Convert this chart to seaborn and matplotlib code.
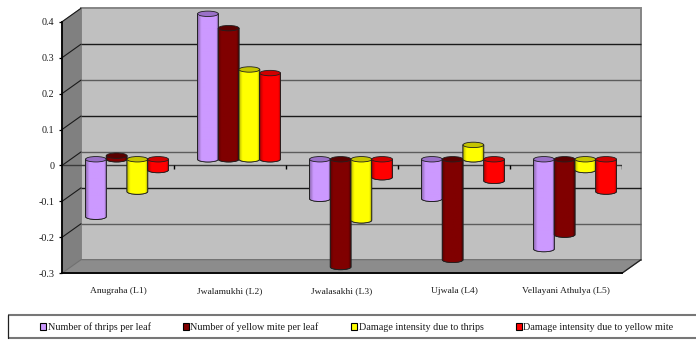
import numpy as np
import pandas as pd
import matplotlib
matplotlib.use("Agg")
import matplotlib.pyplot as plt
from matplotlib.patches import Patch, Polygon, Ellipse, PathPatch
from matplotlib.path import Path
import seaborn as sns

# Correlation values per variety and trait
varieties = ["Anugraha (L1)", "Jwalamukhi (L2)", "Jwalasakhi (L3)", "Ujwala (L4)", "Vellayani Athulya (L5)"]
thrips = [-0.16, 0.405, -0.11, -0.11, -0.25]
mite = [0.01, 0.365, -0.30, -0.28, -0.21]
damage_thrips = [-0.09, 0.25, -0.17, 0.04, -0.03]
damage_mite = [-0.03, 0.24, -0.05, -0.06, -0.09]
traits = ["Number of thrips per leaf", "Number of yellow mite per leaf",
          "Damage intensity due to thrips", "Damage intensity due to yellow mite"]
colors = ["#CC99FF", "#800000", "#FFFF00", "#FF0000"]
cap_colors = ["#9A70C8", "#5A0000", "#C4C400", "#D00000"]
y_ticks = [0.4, 0.3, 0.2, 0.1, 0, -0.1, -0.2, -0.3]
y_labels = ["0.4", "0.3", "0.2", "0.1", "0", "-0.1", "-0.2", "-0.3"]

sns.set_theme(style="white")
plt.rcParams["font.family"] = ["Liberation Serif", "DejaVu Serif"]
TEXT = "#1c1c1c"
FS = 7.3
FS_CAT = 6.8

W, H = 696, 341
fig = plt.figure(figsize=(W / 100, H / 100), dpi=100, facecolor="white")


def px_axes(x0, x1, y_top, y_bottom, z):
    a = fig.add_axes([x0 / W, 1 - y_bottom / H, (x1 - x0) / W, (y_bottom - y_top) / H], zorder=z)
    a.patch.set_alpha(0)
    return a


# Chart box: back wall, side wall, floor and the legend frame, in pixel units
bg = px_axes(0, W, 0, H, 0)
bg.set_xlim(0, W)
bg.set_ylim(H, 0)
bg.axis("off")
FX0, FX1, FY_T, FY_B = 62, 622, 21.8, 273.2
DX, DY = 19, -13.5
bg.add_patch(Polygon([(FX0 + DX, FY_T + DY), (FX1 + DX, FY_T + DY), (FX1 + DX, FY_B + DY), (FX0 + DX, FY_B + DY)],
                     fc="#C0C0C0", ec="#858585", lw=1.4))
bg.add_patch(Polygon([(FX0, FY_T), (FX0 + DX, FY_T + DY), (FX0 + DX, FY_B + DY), (FX0, FY_B)],
                     fc="#808080", ec="#808080", lw=0.6))
bg.add_patch(Polygon([(FX0, FY_B), (FX1, FY_B), (FX1 + DX, FY_B + DY), (FX0 + DX, FY_B + DY)],
                     fc="#8C8C8C", ec="#707070", lw=0.8))
bg.plot([FX1, FX1 + DX], [FY_B, FY_B + DY], color="#202020", lw=0.9)
scale = (FY_B - FY_T) / 0.7
for i, v in enumerate(y_ticks[1:-1]):
    yf = FY_T + (0.4 - v) * scale
    shade = "#1a1a1a" if i % 2 == 0 else "#5c5c5c"
    bg.plot([FX0 + DX, FX1 + DX], [yf + DY, yf + DY], color=shade, lw=1.0, solid_capstyle="butt")
for v in y_ticks:
    yf = FY_T + (0.4 - v) * scale
    if v != -0.3:
        bg.plot([FX0, FX0 + DX], [yf, yf + DY], color="#1a1a1a", lw=0.8)
# Legend frame runs off the right edge of the figure
bg.plot([7.5, W], [314.8, 314.8], color="#777777", lw=1.5, solid_capstyle="butt")
bg.plot([7.5, W], [338, 338], color="#777777", lw=1.5, solid_capstyle="butt")
bg.plot([7.5, 7.5], [314.8, 338], color="#202020", lw=0.9)

# Front plane: value axis, category labels and the zero line
front = px_axes(FX0, FX1, FY_T, FY_B, 1)
front.set_xlim(-0.5, 4.5)
front.set_ylim(-0.3, 0.4)
sns.despine(ax=front, top=True, right=True)
for side in ("left", "bottom"):
    front.spines[side].set_color("black")
    front.spines[side].set_linewidth(1.3)
front.set_yticks(y_ticks, y_labels, fontsize=FS, color=TEXT)
front.set_xticks(range(len(varieties)), varieties, fontsize=FS_CAT, color=TEXT)
front.tick_params(axis="y", length=2, width=0.9, pad=3.5, color="black", left=True)
front.tick_params(axis="x", length=0, pad=14.5)
for lbl in front.get_xticklabels():
    lbl.set_verticalalignment("baseline")
front.hlines(0, -0.5, 4.5, color="#3a3a3a", lw=1.0)
front.vlines(np.arange(0.5, 5), -0.009, 0.0, color="black", lw=1.0)

# Cylinders sit halfway through the depth of the box
df = pd.DataFrame({
    "variety": np.tile(varieties, len(traits)),
    "trait": np.repeat(traits, len(varieties)),
    "value": np.concatenate([thrips, mite, damage_thrips, damage_mite]),
})
ax = px_axes(FX0 + 9, FX1 + 9, FY_T - 6.2, FY_B - 6.2, 2)
sns.barplot(data=df, x="variety", y="value", hue="trait", hue_order=traits, order=varieties,
            palette=colors, width=0.74, gap=0, saturation=1, legend=False, ax=ax, errorbar=None)
ax.set_xlim(-0.5, 4.5)
ax.set_ylim(-0.3, 0.4)
ax.axis("off")

cap_half = 2.7 / scale  # half height of an end ellipse in value units
for s, container in enumerate(ax.containers):
    base = np.array(matplotlib.colors.to_rgb(colors[s]))
    # Horizontal shading across the round body of a cylinder
    t = np.linspace(0, 1, 64)
    shade = np.clip(0.72 + 0.28 * np.minimum(1, t / 0.16) - 0.38 * np.clip((t - 0.88) / 0.12, 0, 1), 0, 1)
    strip = (base[None, None, :] * shade[None, :, None])
    for k, bar in enumerate(container):
        z = 3 + s * 3 + k * 20
        x0, w = bar.get_x(), bar.get_width()
        v = bar.get_height()
        low, high = min(0, v), max(0, v)
        xc = x0 + w / 2
        bar.set_zorder(z)
        bar.set_visible(False)
        k_c = 0.5523
        verts = [(x0, high), (x0, low),
                 (x0, low - k_c * cap_half), (xc - k_c * w / 2, low - cap_half), (xc, low - cap_half),
                 (xc + k_c * w / 2, low - cap_half), (x0 + w, low - k_c * cap_half), (x0 + w, low),
                 (x0 + w, high), (x0, high)]
        codes = [Path.MOVETO, Path.LINETO, Path.CURVE4, Path.CURVE4, Path.CURVE4,
                 Path.CURVE4, Path.CURVE4, Path.CURVE4, Path.LINETO, Path.CLOSEPOLY]
        body = PathPatch(Path(verts, codes), fc=colors[s], ec="#202020", lw=0.6, zorder=z + 1, clip_on=False)
        ax.add_patch(body)
        im = ax.imshow(strip, extent=(x0, x0 + w, low - cap_half, high), aspect="auto", zorder=z + 1.5,
                       interpolation="bilinear")
        im.set_clip_path(body)
        ax.add_patch(PathPatch(Path(verts, codes), fc="none", ec="#202020", lw=0.6, zorder=z + 1.7, clip_on=False))
        ax.add_patch(Ellipse((xc, high), w, 2 * cap_half, fc=cap_colors[s], ec="#202020", lw=0.6,
                             zorder=z + 2, clip_on=False))
ax.set_xlim(-0.5, 4.5)
ax.set_ylim(-0.3, 0.4)

handles = [Patch(fc=c, ec="black", lw=0.8) for c in colors]
fig.legend(handles, traits, ncol=4, frameon=False, loc="center left",
           bbox_to_anchor=(40 / W, 1 - 327.5 / H), borderpad=0, borderaxespad=0,
           fontsize=FS, handlelength=0.62, handleheight=0.62, handletextpad=0.12, columnspacing=3.2,
           labelcolor=TEXT)

fig.savefig("out.png", dpi=100, facecolor="white")
